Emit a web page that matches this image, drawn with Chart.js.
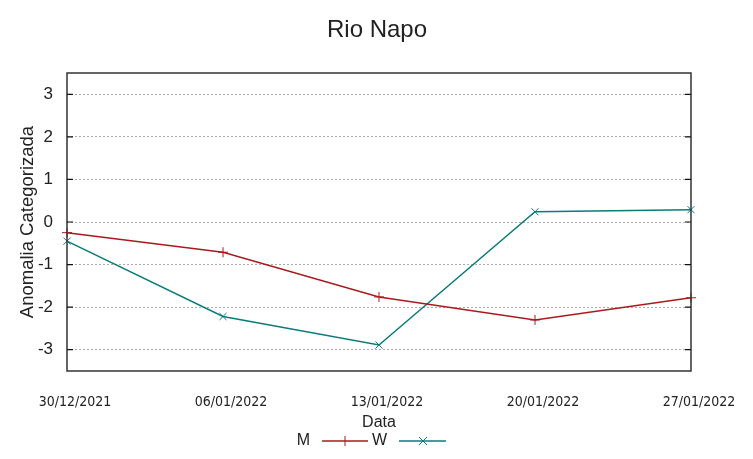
<!DOCTYPE html>
<html>
<head>
<meta charset="utf-8">
<script src="https://cdn.jsdelivr.net/npm/chart.js@4"></script>
<style>
  html, body { margin: 0; padding: 0; background: #fff; }
  #wrap { width: 753px; height: 459px; position: relative; }
</style>
</head>
<body>
<div id="wrap"><canvas id="c"></canvas></div>
<script>
const categories = ['30/12/2021', '06/01/2022', '13/01/2022', '20/01/2022', '27/01/2022'];
const seriesM = [-0.25, -0.71, -1.76, -2.30, -1.78];
const seriesW = [-0.45, -2.22, -2.89, 0.24, 0.29];
const yTickValues = [-3, -2, -1, 0, 1, 2, 3];
const titleText = 'Rio Napo';
const xTitle = 'Data';
const yTitle = 'Anomalia Categorizada';
const legendNames = ['M', 'W'];

const colM = '#a81a1e';
const colW = '#0a7b7b';

const framePlugin = {
  id: 'frame',
  afterDraw(chart) {
    const {ctx, chartArea: a, scales} = chart;
    ctx.save();
    ctx.strokeStyle = '#333';
    ctx.lineWidth = 1.5;
    ctx.strokeRect(a.left, a.top, a.right - a.left, a.bottom - a.top);
    ctx.lineWidth = 1.2;
    ctx.strokeStyle = '#111';
    yTickValues.forEach(v => {
      const y = scales.y.getPixelForValue(v);
      ctx.beginPath();
      ctx.moveTo(a.left, y); ctx.lineTo(a.left + 6, y);
      ctx.moveTo(a.right, y); ctx.lineTo(a.right - 6, y);
      ctx.stroke();
    });
    ctx.restore();
  }
};

const titlePlugin = {
  id: 'gpTitle',
  afterDraw(chart) {
    const {ctx} = chart;
    ctx.save();
    ctx.font = '24px "Liberation Sans", Arial, sans-serif';
    ctx.fillStyle = '#222';
    ctx.textAlign = 'center';
    ctx.textBaseline = 'middle';
    ctx.fillText(titleText, 377, 30);
    ctx.restore();
  }
};

const legendPlugin = {
  id: 'gpLegend',
  afterDraw(chart) {
    const {ctx} = chart;
    const y = 441;
    ctx.save();
    ctx.font = '16px "Liberation Sans", Arial, sans-serif';
    ctx.fillStyle = '#222';
    ctx.textBaseline = 'middle';
    ctx.textAlign = 'right';
    ctx.fillText(legendNames[0], 310, y);
    ctx.fillText(legendNames[1], 387, y);
    ctx.lineWidth = 1.5;
    ctx.strokeStyle = colM;
    ctx.beginPath(); ctx.moveTo(322, y); ctx.lineTo(368, y); ctx.stroke();
    ctx.lineWidth = 1;
    ctx.beginPath(); ctx.moveTo(345, y - 5); ctx.lineTo(345, y + 5); ctx.stroke();
    ctx.lineWidth = 1.5;
    ctx.strokeStyle = colW;
    ctx.beginPath(); ctx.moveTo(399, y); ctx.lineTo(446, y); ctx.stroke();
    ctx.lineWidth = 1;
    ctx.beginPath();
    ctx.moveTo(423 - 4, y - 4); ctx.lineTo(423 + 4, y + 4);
    ctx.moveTo(423 - 4, y + 4); ctx.lineTo(423 + 4, y - 4);
    ctx.stroke();
    ctx.restore();
  }
};

new Chart(document.getElementById('c'), {
  type: 'line',
  data: {
    labels: categories,
    datasets: [
      {
        label: legendNames[0], data: seriesM,
        borderColor: colM, backgroundColor: colM, borderWidth: 1.5,
        pointStyle: 'cross', pointRadius: 5, pointBorderWidth: 1,
        pointBorderColor: colM, tension: 0, clip: false
      },
      {
        label: legendNames[1], data: seriesW,
        borderColor: colW, backgroundColor: colW, borderWidth: 1.5,
        pointStyle: 'crossRot', pointRadius: 5, pointBorderWidth: 1,
        pointBorderColor: colW, tension: 0, clip: false
      }
    ]
  },
  options: {
    responsive: true,
    maintainAspectRatio: false,
    animation: false,
    devicePixelRatio: 1,
    layout: { padding: { left: 0, right: 62, top: 73, bottom: 27 } },
    plugins: {
      legend: { display: false },
      tooltip: { enabled: false },
      title: { display: false }
    },
    scales: {
      x: {
        type: 'category',
        offset: false,
        grid: { display: false, drawTicks: false },
        border: { display: false },
        ticks: {
          color: '#222', padding: 23, labelOffset: 8, maxRotation: 0, autoSkip: false,
          font: { family: '"DejaVu Sans Condensed", "Liberation Sans", Arial, sans-serif', size: 14 }
        },
        title: {
          display: true, text: xTitle, color: '#222',
          font: { family: '"Liberation Sans", Arial, sans-serif', size: 16 },
          padding: { top: 0, bottom: 0 }
        },
        afterFit(scale) { scale.height = 61; }
      },
      y: {
        type: 'linear',
        min: -3.5, max: 3.5,
        afterBuildTicks(scale) { scale.ticks = yTickValues.map(v => ({ value: v })); },
        grid: { color: '#aaaaaa', lineWidth: 1, drawTicks: false },
        border: { display: false, dash: [2, 2] },
        ticks: {
          color: '#222', padding: 14,
          font: { family: '"Liberation Sans", Arial, sans-serif', size: 17 }
        },
        title: {
          display: true, text: yTitle, color: '#222',
          font: { family: '"Liberation Sans", Arial, sans-serif', size: 18.5 },
          padding: { top: 16.5, bottom: 0 }
        },
        afterFit(scale) { scale.width = 67; }
      }
    }
  },
  plugins: [framePlugin, titlePlugin, legendPlugin]
});
</script>
</body>
</html>
